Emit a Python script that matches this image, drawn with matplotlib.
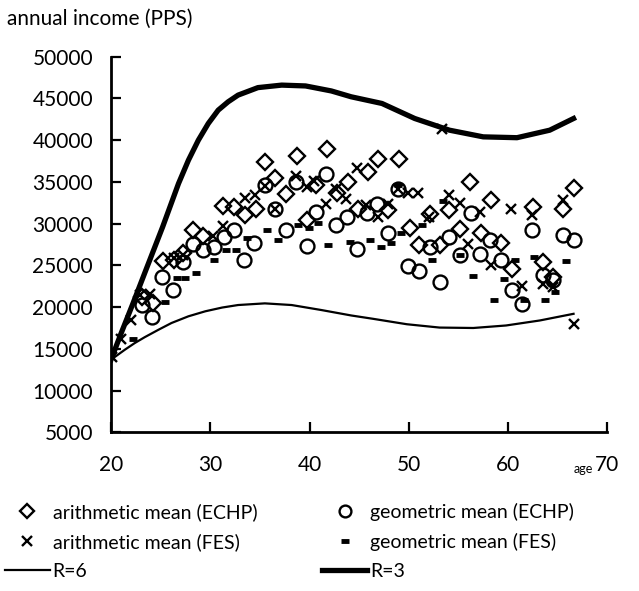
import matplotlib.pyplot as plt
from matplotlib.lines import Line2D

plt.rcParams['font.family'] = ['Lato', 'DejaVu Sans']

# arithmetic mean (ECHP)
age_am_echp = [23.1, 24.2, 25.2, 26.3, 27.3, 28.3, 29.3, 31.3, 32.4, 33.5, 34.6, 35.5, 36.5, 37.6,
               38.7, 39.7, 40.7, 41.8, 42.8, 43.9, 44.9, 45.9, 46.9, 47.9, 49.0, 50.1, 51.0, 52.1,
               53.1, 54.1, 55.2, 56.2, 57.3, 58.3, 59.3, 60.4, 62.5, 63.5, 64.5, 65.5, 66.6]
inc_am_echp = [21200, 20500, 25500, 25700, 26500, 29200, 28500, 32100, 32000, 31000, 31700, 37400,
               35500, 33600, 38100, 30400, 34600, 38900, 33700, 35000, 31700, 36200, 37800, 31600,
               37800, 29500, 27400, 31100, 27400, 31600, 29400, 35000, 28900, 32800, 27700, 24600,
               32000, 25400, 23600, 31800, 34300]

# geometric mean (ECHP)
age_gm_echp = [23.1, 24.1, 25.1, 26.2, 27.3, 28.3, 29.3, 30.4, 31.4, 32.4, 33.4, 34.4, 35.5, 36.5,
               37.6, 38.6, 39.7, 40.7, 41.7, 42.7, 43.8, 44.8, 45.8, 46.8, 47.9, 48.9, 49.9, 51.0,
               52.1, 53.1, 54.1, 55.2, 56.3, 57.2, 58.2, 59.3, 60.4, 61.4, 62.4, 63.5, 64.5, 65.5, 66.6]
inc_gm_echp = [20200, 18800, 23600, 22000, 25400, 27600, 26800, 27200, 28400, 29200, 25600, 27700,
               34600, 31700, 29300, 35000, 27300, 31400, 36000, 29800, 30800, 27000, 31300, 32300,
               28900, 34100, 24900, 24300, 27200, 23000, 28400, 26200, 31300, 26400, 28100, 25700,
               22100, 20400, 29200, 23800, 23200, 28600, 28000]

# arithmetic mean (FES)
age_am_fes = [20.1, 21.0, 22.0, 22.9, 23.9, 26.3, 27.3, 30.3, 31.3, 33.5, 34.5, 35.5, 36.5, 38.6,
              39.7, 40.5, 41.7, 42.7, 43.7, 44.8, 45.7, 46.9, 47.9, 48.9, 49.9, 50.9, 52.0, 53.3,
              54.1, 55.2, 56.0, 57.2, 58.3, 60.3, 61.4, 62.4, 63.5, 64.5, 65.5, 66.6]
inc_am_fes = [14000, 16200, 18400, 21400, 21600, 25900, 26200, 28500, 29700, 33100, 33400, 34500,
              31700, 35700, 34400, 35100, 32400, 34200, 33000, 36700, 32200, 30800, 32400, 34100,
              33700, 33700, 30800, 41300, 33400, 32500, 27600, 31400, 25000, 31700, 22500, 31000,
              22800, 22400, 32800, 18000]

# geometric mean (FES)
age_gm_fes = [22.2, 25.4, 26.6, 27.5, 28.6, 30.4, 31.6, 32.6, 33.7, 35.7, 36.8, 38.8, 39.9, 40.9,
              41.9, 44.1, 46.1, 47.2, 48.2, 48.9, 49.2, 51.3, 52.3, 53.4, 55.2, 56.5, 58.6, 59.6,
              60.7, 61.6, 62.6, 63.7, 64.7, 65.8]
inc_gm_fes = [16200, 20600, 23500, 23500, 24100, 25600, 26900, 26900, 28300, 29200, 28000, 29800,
              29500, 30100, 27400, 27800, 28000, 27200, 27700, 34600, 28900, 29800, 25600, 32700,
              26200, 23700, 20900, 23400, 25700, 20800, 26000, 20800, 21800, 25500]

# model curves
age_r6 = [20.0, 21.4, 22.4, 23.4, 24.8, 26.1, 27.8, 29.5, 31.2, 32.8, 35.5, 38.2, 41.2, 44.2,
          46.4, 49.8, 53.1, 56.5, 59.8, 63.2, 66.6]
inc_r6 = [13700, 14900, 15700, 16400, 17300, 18100, 18900, 19500, 19950, 20250, 20450, 20250,
          19650, 19000, 18600, 17950, 17550, 17500, 17800, 18400, 19200]
age_r3 = [20.0, 21.0, 22.2, 23.5, 25.2, 26.8, 27.8, 28.8, 29.8, 30.8, 31.8, 32.8, 34.8, 37.2,
          39.6, 42.2, 44.2, 47.3, 50.6, 54.1, 57.5, 60.9, 64.2, 66.6]
inc_r3 = [13700, 16800, 20400, 24400, 29600, 34800, 37600, 40000, 42000, 43600, 44600, 45400,
          46300, 46600, 46500, 45900, 45200, 44400, 42600, 41200, 40400, 40300, 41200, 42600]

fig = plt.figure(figsize=(6.39, 5.91), dpi=100)
ax = fig.add_axes([0.1737, 0.2685, 0.7767, 0.6355])

mk = dict(linestyle='none', color='black', markerfacecolor='none')
ax.plot(age_am_echp, inc_am_echp, marker='D', ms=8.5, mew=1.7, **mk)
ax.plot(age_gm_echp, inc_gm_echp, marker='o', ms=10, mew=1.7, **mk)
ax.plot(age_am_fes, inc_am_fes, marker='x', ms=7.5, mew=1.7, **mk)
ax.plot(age_gm_fes, inc_gm_fes, marker='_', ms=6, mew=3.5, **mk)
ax.plot(age_r6, inc_r6, color='black', lw=1.6, solid_joinstyle='round')
ax.plot(age_r3, inc_r3, color='black', lw=3.8, solid_joinstyle='round')

ax.set_xlim(20, 70)
ax.set_ylim(5000, 50000)
ax.set_xticks(range(20, 71, 10))
ax.set_yticks(range(5000, 50001, 5000))
ax.spines['top'].set_visible(False)
ax.spines['right'].set_visible(False)
for s in ['left', 'bottom']:
    ax.spines[s].set_linewidth(2)
ax.tick_params(direction='in', length=7, width=1.6, labelsize=15)
ax.tick_params(axis='y', pad=13)
ax.tick_params(axis='x', pad=16)

fig.text(7 / 639, 1 - 19 / 591, 'annual income (PPS)', fontsize=15, va='center', ha='left')
fig.text(583 / 639, 1 - 469 / 591, 'age', fontsize=9, va='center', ha='center')

handles = [
    Line2D([], [], marker='D', ms=7, mew=1.7, **mk),
    Line2D([], [], marker='x', ms=6.5, mew=1.7, **mk),
    Line2D([], [], color='black', lw=1.6),
    Line2D([], [], marker='o', ms=8.5, mew=1.7, **mk),
    Line2D([], [], marker='_', ms=6, mew=3.5, **mk),
    Line2D([], [], color='black', lw=3.8),
]
labels = ['arithmetic mean (ECHP)', 'arithmetic mean (FES)', 'R=6',
          'geometric mean (ECHP)', 'geometric mean (FES)', 'R=3']
fig.legend(handles, labels, loc='upper left', bbox_to_anchor=(5 / 639, 1 - 503 / 591),
           ncol=2, frameon=False, fontsize=14, handlelength=2.3, handletextpad=0.15,
           columnspacing=3.35, labelspacing=0.62, borderaxespad=0, borderpad=0)

fig.savefig('out.png', dpi=100)
